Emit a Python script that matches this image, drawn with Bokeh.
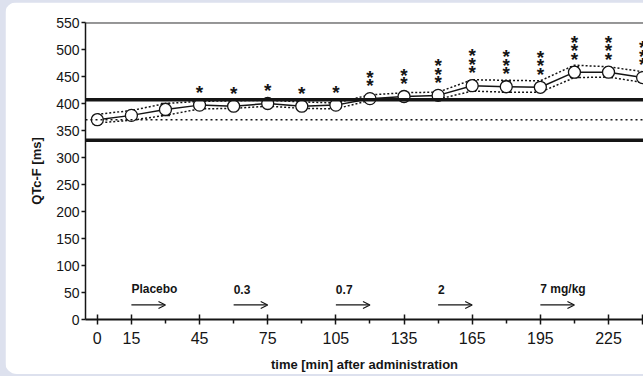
from bokeh.plotting import figure
from bokeh.models import (ColumnDataSource, Whisker, TeeHead, Span, Arrow, OpenHead,
                          FixedTicker, SingleIntervalTicker, Range1d)
from bokeh.layouts import column
from bokeh.core.properties import value
from bokeh.embed import file_html
from bokeh.resources import INLINE

# ---- data ----
time_min = [0, 15, 30, 45, 60, 75, 90, 105, 120, 135, 150, 165, 180, 195, 210, 225, 240]
qtcf_mean = [370, 378, 389, 397, 395, 400, 395, 397, 409, 413, 415, 433, 431, 430, 458, 458, 448]
qtcf_sem = [8, 7, 11, 5, 5, 5, 5, 5, 4, 5, 5, 9, 10, 7, 10, 7, 8]
band_upper = [380, 387, 400, 404, 405, 406, 403, 401, 416, 420, 421, 444, 443, 442, 471, 468, 459]
band_lower = [364, 369, 378, 390, 391, 395, 391, 390, 406, 408, 408, 423, 421, 421, 448, 449, 439]
star_counts = [0, 0, 0, 1, 1, 1, 1, 1, 2, 2, 3, 3, 3, 3, 3, 3, 3]

ref_upper = 407
ref_lower = 332
ref_mean = 370

dose_start = [15, 60, 105, 150, 195]
dose_labels = ["Placebo", "0.3", "0.7", "2", "7 mg/kg"]
dose_len = 15
dose_label_y = 56
dose_arrow_y = 27

x_major = [0, 15, 45, 75, 105, 135, 165, 195, 225, 240]
x_minor = [30, 60, 90, 120, 150, 180, 210]

FONT = "Liberation Sans"
INK = "#151515"

p = figure(width=638, height=372, output_backend="svg", toolbar_location=None,
           x_range=Range1d(-5.2, 240.4), y_range=Range1d(0, 550),
           min_border_left=80, min_border_right=0, min_border_top=20, min_border_bottom=54,
           background_fill_color="white", border_fill_color="white",
           outline_line_color=None, margin=(2, 0, 2, 5))
p.styles = {"border-radius": "12px 0 0 12px", "overflow": "hidden"}
p.xgrid.visible = False
p.ygrid.visible = False

# reference lines
p.add_layout(Span(location=550, dimension="width", line_color="#333333", line_width=2))
p.add_layout(Span(location=ref_upper, dimension="width", line_color=INK, line_width=3.5))
p.add_layout(Span(location=ref_lower, dimension="width", line_color=INK, line_width=3.5))
p.add_layout(Span(location=ref_mean, dimension="width", line_color=INK, line_width=1.5,
                  line_dash="2 3"))

src = ColumnDataSource(dict(
    t=time_min, m=qtcf_mean,
    hi=[m + s for m, s in zip(qtcf_mean, qtcf_sem)],
    lo=[m - s for m, s in zip(qtcf_mean, qtcf_sem)],
    up=band_upper, dn=band_lower))

p.line("t", "up", source=src, line_color=INK, line_width=1.5, line_dash="2 2")
p.line("t", "dn", source=src, line_color=INK, line_width=1.5, line_dash="2 2")
p.line("t", "m", source=src, line_color=INK, line_width=1.5)
p.add_layout(Whisker(base="t", upper="hi", lower="lo", source=src, line_color=INK, line_width=1.2,
                     upper_head=TeeHead(size=9, line_color=INK, line_width=1.5),
                     lower_head=TeeHead(size=9, line_color=INK, line_width=1.5)))
p.scatter("t", "m", source=src, size=12, fill_color="white", line_color=INK, line_width=1.3)

# significance stars
sx, sy, soff = [], [], []
for t, m, n in zip(time_min, qtcf_mean, star_counts):
    for k in range(n):
        sx.append(t)
        sy.append(m + 33)
        soff.append(5 - 8.5 * k)
p.text(x=sx, y=sy, text=["*"] * len(sx), y_offset=soff, text_font=value(FONT),
       text_font_style="bold", text_font_size="19px", text_color=INK,
       text_align="center", text_baseline="middle")

# dose annotations
p.text(x=dose_start, y=[dose_label_y] * len(dose_start), text=dose_labels,
       text_font=value(FONT), text_font_style="bold", text_font_size="12px",
       text_color=INK, text_align="left", text_baseline="middle")
for d in dose_start:
    p.add_layout(Arrow(end=OpenHead(size=7, line_color=INK, line_width=1.2),
                       x_start=d, y_start=dose_arrow_y, x_end=d + dose_len, y_end=dose_arrow_y,
                       line_color=INK, line_width=1.2))

# axes
xa = p.xaxis[0]
xa.ticker = FixedTicker(ticks=x_major, minor_ticks=x_minor)
xa.major_label_overrides = {240: ""}
xa.axis_label = "time [min] after administration"
xa.axis_label_text_font = FONT
xa.axis_label_text_font_style = "bold"
xa.axis_label_text_font_size = "13px"
xa.axis_label_text_color = INK
xa.axis_label_standoff = 10
xa.major_label_text_font = FONT
xa.major_label_text_font_size = "16px"
xa.major_label_text_color = INK
xa.major_label_standoff = 7
xa.axis_line_width = 2
xa.axis_line_color = INK
xa.major_tick_in = 5
xa.major_tick_out = 5
xa.major_tick_line_width = 1.5
xa.major_tick_line_color = INK
xa.minor_tick_in = 0
xa.minor_tick_out = 4
xa.minor_tick_line_width = 1.5
xa.minor_tick_line_color = INK

ya = p.yaxis[0]
ya.ticker = SingleIntervalTicker(interval=50)
ya.axis_label = "QTc-F [ms]"
ya.axis_label_text_font = FONT
ya.axis_label_text_font_style = "bold"
ya.axis_label_text_font_size = "13px"
ya.axis_label_text_color = INK
ya.axis_label_standoff = 9
ya.major_label_text_font = FONT
ya.major_label_text_font_size = "14px"
ya.major_label_text_color = INK
ya.major_label_standoff = 2
ya.axis_line_width = 1.5
ya.axis_line_color = INK
ya.major_tick_in = 0
ya.major_tick_out = 4
ya.major_tick_line_width = 1.5
ya.major_tick_line_color = INK
ya.minor_tick_line_color = None

layout = column(p, width=643, height=376, styles={"background-color": "#dde1ee"})

open("out.html", "w").write(file_html(layout, INLINE))
